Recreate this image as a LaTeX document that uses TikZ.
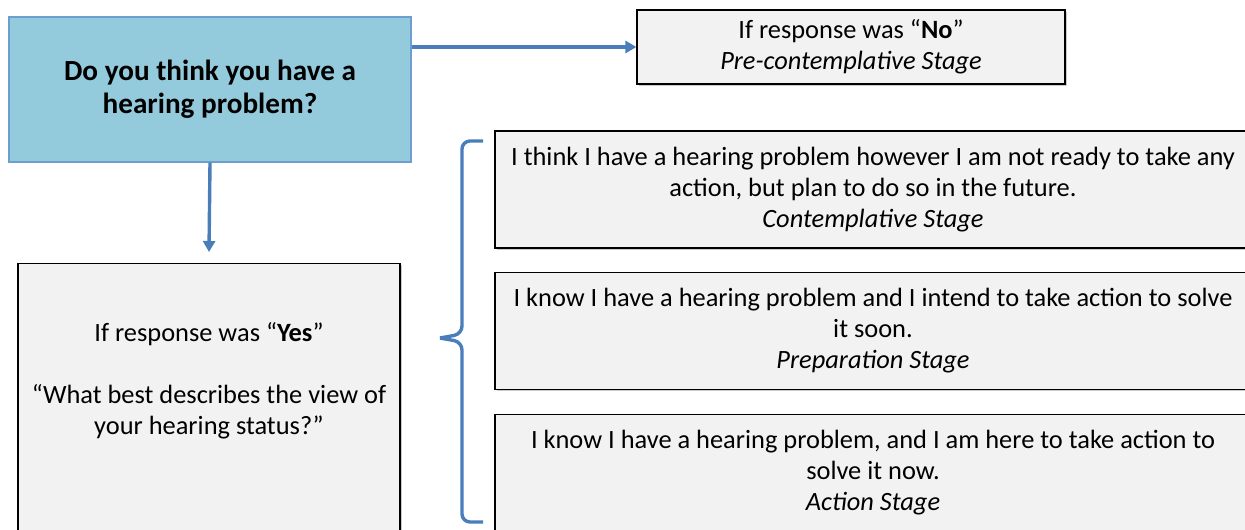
\documentclass[tikz,border=0pt]{standalone}
\usepackage{fontspec}
\setmainfont{Carlito}
\usetikzlibrary{arrows.meta,shadows}
\definecolor{titlefill}{HTML}{93CADC}
\definecolor{titleline}{HTML}{6C9FCF}
\definecolor{linkblue}{HTML}{4A7EBB}
\definecolor{boxfill}{HTML}{F2F2F2}
\begin{document}
\begin{tikzpicture}[x=0.5pt,y=-0.5pt,
  greybox/.style={draw=black, fill=boxfill, line width=0.6pt, align=center,
    font=\fontsize{13.2}{15.5}\selectfont,
    drop shadow={shadow xshift=0.8pt, shadow yshift=-0.8pt, fill=black!35, opacity=0.6}},
  stagebox/.style={greybox, minimum width=378pt, minimum height=58.5pt},
  link/.style={draw=linkblue, line width=1.7pt, -{Triangle[length=5.5pt,width=6pt]}}]
\useasboundingbox (0,0) rectangle (1245,529);

\node[draw=titleline, fill=titlefill, line width=0.6pt, minimum width=201pt, minimum height=72.5pt,
  align=center, font=\fontsize{14.6}{16.5}\selectfont\bfseries] (title) at (210,89.5)
  {Do you think you have a\\hearing problem?};
\node[greybox, minimum width=214pt, minimum height=37pt] (no) at (851,47)
  {If response was “\textbf{No}”\\\textit{Pre-contemplative Stage}};
\node[greybox, minimum width=191pt, minimum height=150pt, anchor=north] (yes) at (209,263) {};
\node[align=center, font=\fontsize{13.2}{15.5}\selectfont] (yestext) at (209,381)
  {If response was “\textbf{Yes}”\\[15.5pt]“What best describes the view of\\your hearing status?”};

\node[stagebox] (contemplative) at (873,189.5)
  {I think I have a hearing problem however I am not ready to take any\\action, but plan to do so in the future.\\\textit{Contemplative Stage}};
\node[stagebox] (preparation) at (873,331)
  {I know I have a hearing problem and I intend to take action to solve\\it soon.\\\textit{Preparation Stage}};
\node[stagebox] (action) at (873,473)
  {I know I have a hearing problem, and I am here to take action to\\solve it now.\\\textit{Action Stage}};

% arrows
\coordinate (downend) at (209,252);
\path[link] (title.east |- no.west) -- (no.west);
\path[link] (title.south) -- (downend);

% brace
\coordinate (bracetop) at (483,141);
\coordinate (bracetip) at (440,338);
\coordinate (bracebot) at (483,522);
\path[draw=linkblue, line width=1.7pt, rounded corners=4pt]
  (bracetop) -- (462,141) -- (462,334) -- (bracetip);
\path[draw=linkblue, line width=1.7pt, rounded corners=4pt]
  (bracetip) -- (462,342) -- (462,522) -- (bracebot);
\end{tikzpicture}
\end{document}
